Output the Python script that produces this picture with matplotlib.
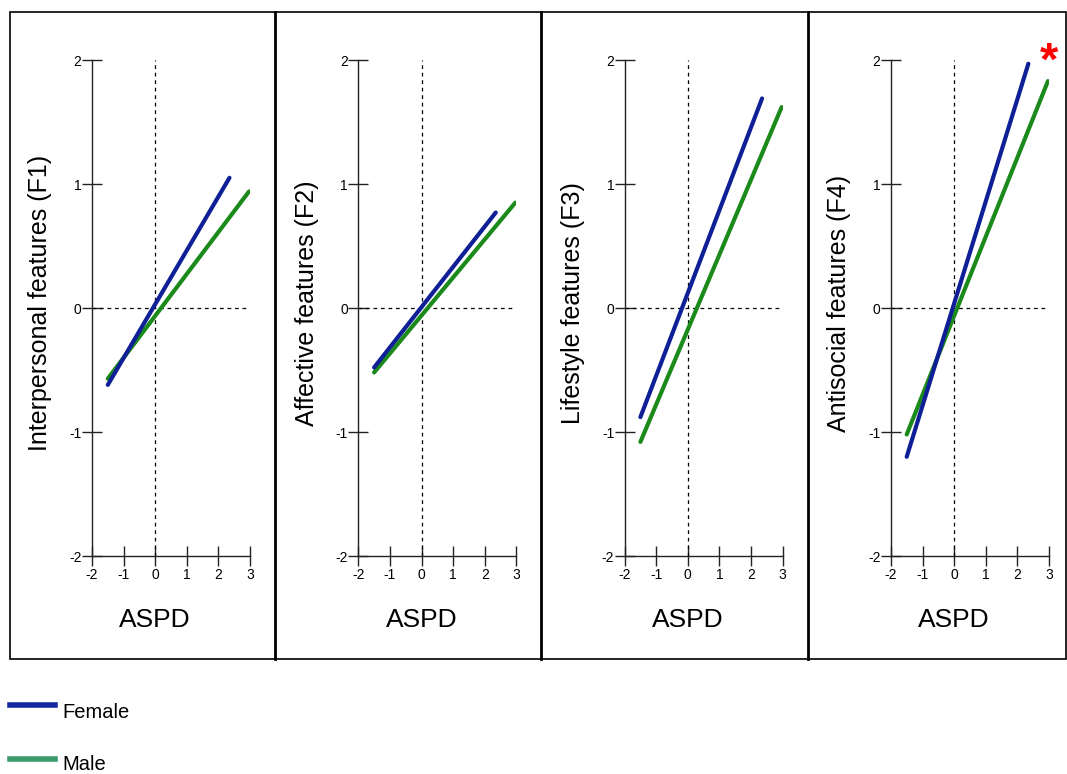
import matplotlib.pyplot as plt
from matplotlib.lines import Line2D
from matplotlib.patches import Rectangle

plt.rcParams['font.family'] = ['Liberation Sans', 'DejaVu Sans']

# panel labels
ylabels = ['Interpersonal features (F1)', 'Affective features (F2)',
           'Lifestyle features (F3)', 'Antisocial features (F4)']
xlabel = 'ASPD'
xticks = [-2, -1, 0, 1, 2, 3]
yticks = [-2, -1, 0, 1, 2]

# fitted line endpoints
female_x = [-1.5, 2.35]
male_x = [-1.5, 2.97]
female_y0 = [-0.62, -0.48, -0.88, -1.20]
female_y1 = [1.05, 0.77, 1.69, 1.97]
male_y0 = [-0.57, -0.52, -1.08, -1.02]
male_y1 = [0.94, 0.85, 1.62, 1.83]

female_col = '#0f1f96'
male_col = '#1b8a1b'

W, H = 1067, 774
fig = plt.figure(figsize=(W / 100, H / 100), dpi=100)

# outer box and panel separators
fig.patches.append(Rectangle((10 / W, 1 - 659 / H), 1056 / W, 647 / H,
                             transform=fig.transFigure, fill=False,
                             edgecolor='black', linewidth=1.2))
for sx in [275, 541, 808]:
    fig.lines.append(Line2D([sx / W, sx / W], [1 - 12 / H, 1 - 659 / H],
                            transform=fig.transFigure, color='black', linewidth=2))

for i in range(4):
    left = 92 + 266.3 * i
    ax = fig.add_axes([left / W, 1 - 556 / H, 158 / W, 496 / H])
    ax.patch.set_alpha(0)
    ax.set_xlim(-2, 3)
    ax.set_ylim(-2, 2)
    for s in ['top', 'right']:
        ax.spines[s].set_visible(False)
    for s in ['left', 'bottom']:
        ax.spines[s].set_linewidth(1)
        ax.spines[s].set_color('#222222')
    ax.set_xticks(xticks)
    ax.set_xticklabels([str(t) for t in xticks])
    ax.set_yticks(yticks)
    ax.set_yticklabels([str(t) for t in yticks])
    ax.tick_params(direction='inout', length=15, width=1, labelsize=10,
                   color='#222222', pad=1)
    ax.tick_params(axis='y', pad=0)

    ax.plot([0, 0], [-2, 2], color='black', linestyle=(0, (3, 3)), linewidth=0.9)
    ax.plot([-2, 3], [0, 0], color='black', linestyle=(0, (3, 3)), linewidth=0.9)

    ax.plot(male_x, [male_y0[i], male_y1[i]], color=male_col, linewidth=3,
            solid_capstyle='round')
    ax.plot(female_x, [female_y0[i], female_y1[i]], color=female_col, linewidth=3,
            solid_capstyle='round')

    ax.set_ylabel(ylabels[i], fontsize=18)
    ax.yaxis.set_label_coords(-0.25, 0.51)
    ax.set_xlabel(xlabel, fontsize=19)
    ax.xaxis.set_label_coords(0.4, -0.13)
    ax.xaxis.label.set_va('center')

    if i == 3:
        ax.text(3.0, 1.98, '*', color='red', fontsize=34, fontweight='bold',
                ha='center', va='center', clip_on=False)

# legend drawn below the panels
fig.lines.append(Line2D([10 / W, 55 / W], [1 - 705 / H] * 2, transform=fig.transFigure,
                        color='#1428a0', linewidth=4))
fig.lines.append(Line2D([10 / W, 55 / W], [1 - 759 / H] * 2, transform=fig.transFigure,
                        color='#3a9a6a', linewidth=4))
fig.text(62 / W, 1 - 712 / H, 'Female', fontsize=14.5, va='center', ha='left')
fig.text(62 / W, 1 - 765 / H, 'Male', fontsize=14.5, va='center', ha='left')

fig.savefig('out.png', dpi=100)
